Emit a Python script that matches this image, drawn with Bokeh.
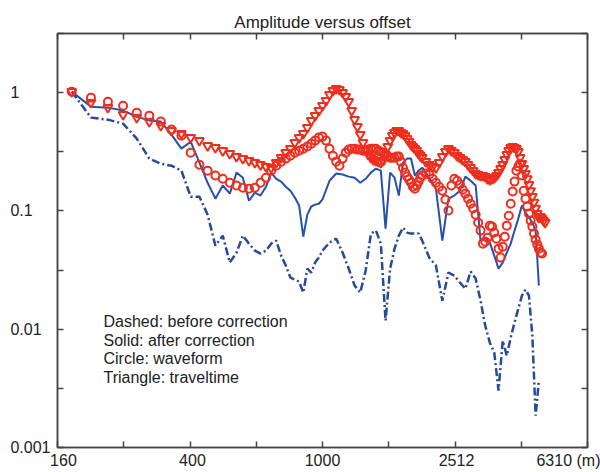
from bokeh.plotting import figure
from bokeh.models import Range1d, FixedTicker, LogAxis, Label, CustomJSTickFormatter
from bokeh.embed import file_html
from bokeh.resources import INLINE

# Source-receiver offsets (m) at which the two blue curves are sampled
offsets = [175, 200, 225, 250, 275, 300, 325, 350, 375, 400, 425, 450, 475, 500,
           525, 550, 575, 600, 625, 650, 675, 700, 725, 750, 775, 800, 825, 850,
           875, 900, 925, 950, 975, 1000, 1050, 1100, 1150, 1200, 1250, 1300,
           1350, 1400, 1450, 1500, 1550, 1600, 1650, 1700, 1750, 1800, 1850,
           1900, 1950, 2000, 2100, 2200, 2300, 2400, 2500, 2600, 2700, 2800,
           2900, 3000, 3100, 3200, 3300, 3400, 3500, 3600, 3700, 3800, 3900,
           4000, 4100, 4200, 4300, 4400, 4500]

# Offsets (m) of the marker series
offsets_markers = [175, 200, 225, 250, 275, 300, 325, 350, 375, 400, 425, 450, 475, 500,
                   525, 550, 575, 600, 625, 650, 675, 700, 725, 750, 775, 800, 825, 850,
                   875, 900, 925, 950, 975,
                   1000, 1025, 1050, 1075, 1100, 1125, 1150, 1175, 1200, 1225,
                   1250, 1275, 1300, 1325, 1350, 1375, 1400, 1425, 1450, 1475,
                   1500, 1525, 1550, 1575, 1600, 1625, 1650, 1675, 1700, 1725,
                   1750, 1775, 1800, 1825, 1850, 1875, 1900, 1925, 1950, 1975, 2000,
                   2050, 2100, 2150, 2200, 2250, 2300, 2350, 2400, 2450, 2500,
                   2550, 2600, 2650, 2700, 2750, 2800, 2850, 2900, 2950, 3000,
                   3050, 3100, 3150, 3200, 3250, 3300, 3350, 3400, 3450, 3500,
                   3550, 3600, 3650, 3700, 3750, 3800, 3850, 3900, 3950, 4000,
                   4050, 4100, 4150, 4200, 4250, 4300, 4350, 4400, 4450, 4500,
                   4550, 4600, 4650, 4700]

# Amplitude before correction (dash-dot)
before_corr = [1.02, 0.615, 0.591, 0.547, 0.408, 0.277, 0.251, 0.241, 0.219, 0.132,
               0.132, 0.0930, 0.0509, 0.0618, 0.0366, 0.0444, 0.0618, 0.0529, 0.0462,
               0.0436, 0.0462, 0.0529, 0.0561, 0.0419, 0.0345, 0.0273, 0.0263, 0.0253,
               0.0204, 0.0325, 0.0301, 0.0366, 0.0403, 0.0462, 0.0540, 0.0583, 0.0444,
               0.0325, 0.0234, 0.0204, 0.0313, 0.0643, 0.0682, 0.0529, 0.0118, 0.0325,
               0.0480, 0.0618, 0.0722, 0.0656, 0.0643, 0.0643, 0.0643, 0.0561, 0.0403,
               0.0345, 0.0174, 0.0301, 0.0284, 0.0248, 0.0220, 0.0307, 0.0268, 0.0174,
               0.0107, 0.00770, 0.00634, 0.00303, 0.00801, 0.00598, 0.00849, 0.0114,
               0.0149, 0.0192, 0.0216, 0.0192, 0.00883, 0.00186, 0.00368]

# Amplitude after correction (solid)
after_corr = [1.02, 0.761, 0.747, 0.705, 0.627, 0.580, 0.569, 0.442, 0.336, 0.385,
              0.256, 0.173, 0.127, 0.164, 0.140, 0.211, 0.191, 0.122, 0.143, 0.135,
              0.160, 0.211, 0.187, 0.177, 0.160, 0.148, 0.130, 0.111, 0.0606, 0.0930,
              0.109, 0.113, 0.115, 0.125, 0.180, 0.207, 0.203, 0.195, 0.191, 0.173,
              0.187, 0.211, 0.228, 0.219, 0.0709, 0.211, 0.191, 0.135, 0.256, 0.277,
              0.277, 0.199, 0.219, 0.232, 0.191, 0.154, 0.0561, 0.127, 0.135, 0.148,
              0.195, 0.180, 0.164, 0.0561, 0.0594, 0.0540, 0.0419, 0.0325, 0.0366,
              0.0444, 0.0529, 0.0682, 0.0861, 0.111, 0.0967, 0.0877, 0.0796, 0.0682,
              0.0234]

# Waveform-based amplitude (circles)
waveform = [1.02, 0.907, 0.839, 0.776, 0.677, 0.639, 0.569, 0.487, 0.433, 0.311,
            0.246, 0.219, 0.199, 0.187, 0.173, 0.164, 0.157, 0.154, 0.157, 0.173,
            0.191, 0.219, 0.241, 0.261, 0.277, 0.293, 0.311, 0.323, 0.336, 0.350,
            0.370, 0.393, 0.417,
            0.425, 0.393, 0.336, 0.293, 0.261, 0.241, 0.277, 0.311, 0.330, 0.336,
            0.336, 0.330, 0.330, 0.323, 0.323, 0.330, 0.336, 0.336, 0.336, 0.323,
            0.317, 0.311, 0.299, 0.288, 0.282, 0.282, 0.282, 0.288, 0.288, 0.261,
            0.232, 0.211, 0.195, 0.184, 0.173, 0.160, 0.154, 0.164, 0.177, 0.191,
            0.199,
            0.207, 0.203, 0.187, 0.173, 0.160, 0.148, 0.125, 0.101, 0.164, 0.187,
            0.180, 0.167, 0.151, 0.140, 0.127, 0.115, 0.105, 0.0930, 0.0796, 0.0682,
            0.0529, 0.0550, 0.0594, 0.0751, 0.0737, 0.0656, 0.0583, 0.0480, 0.0403, 0.0499,
            0.0606, 0.0751, 0.0912, 0.115, 0.146, 0.177, 0.219, 0.237, 0.251, 0.199,
            0.148, 0.127, 0.109, 0.0949, 0.0828, 0.0737, 0.0643, 0.0572, 0.0519, 0.0480,
            0.0444, 0.0436]

# Traveltime-based amplitude (triangles)
traveltime = [1.02, 0.823, 0.747, 0.652, 0.615, 0.569, 0.526, 0.477, 0.450, 0.417,
              0.393, 0.356, 0.343, 0.323, 0.305, 0.288, 0.277, 0.266, 0.256, 0.246,
              0.237, 0.232, 0.256, 0.282, 0.311, 0.336, 0.378, 0.417, 0.450, 0.506,
              0.580, 0.639, 0.705,
              0.776, 0.856, 0.962, 1.04, 1.08, 1.06, 1.00, 0.925, 0.839, 0.705,
              0.591, 0.516, 0.442, 0.378, 0.330, 0.299, 0.282, 0.271, 0.266, 0.261,
              0.256, 0.266, 0.299, 0.350, 0.393, 0.433, 0.459, 0.477, 0.477, 0.459,
              0.450, 0.433, 0.408, 0.385, 0.364, 0.350, 0.336, 0.323, 0.305, 0.293,
              0.282,
              0.261, 0.246, 0.237, 0.232, 0.256, 0.288, 0.317, 0.336, 0.323, 0.311,
              0.293, 0.282, 0.271, 0.261, 0.246, 0.232, 0.219, 0.207, 0.203, 0.199,
              0.199, 0.195, 0.187, 0.184, 0.187, 0.191, 0.199, 0.211, 0.228, 0.246,
              0.271, 0.299, 0.323, 0.343, 0.350, 0.343, 0.336, 0.317, 0.282, 0.251,
              0.228, 0.207, 0.187, 0.167, 0.148, 0.132, 0.118, 0.105, 0.0949, 0.0877,
              0.0895, 0.0861, 0.0829, 0.0796]

# Axis ticks (every 0.2 decade on x, every half decade on y)
x_ticks = [158.49, 251.19, 398.11, 630.96, 1000.0, 1584.9, 2511.9, 3981.1, 6309.6]
y_ticks = [0.001, 0.0031623, 0.01, 0.031623, 0.1, 0.31623, 1.0, 3.1623]

# Tick label texts and where they sit (the last x label is pulled inside the window)
x_label_pos = [165.2, 405.0, 1000.0, 2538.0, 5529.0]
x_label_text = ["160", "400", "1000", "2512", "6310 (m)"]
y_label_pos = [1.0, 0.1, 0.01, 0.0010001]
# padded with no-break spaces so the numbers line up on their left edge
y_label_text = ["1" + "\u00a0" * 7, "0.1" + "\u00a0" * 4, "0.01" + "\u00a0" * 2, "0.001"]

notes = ["Dashed: before correction", "Solid: after correction",
         "Circle: waveform", "Triangle: traveltime"]

RED = "#ee2f20"
BLUE = "#2551ad"
DARK_BLUE = "#27499a"
FRAME = "#444444"
TEXT = "#222222"
FONT = "Liberation Sans"

p = figure(width=600, height=472, x_axis_type="log", y_axis_type="log",
           x_range=Range1d(x_ticks[0], x_ticks[-1]),
           y_range=Range1d(y_ticks[0], y_ticks[-1]),
           output_backend="svg", toolbar_location=None,
           min_border_left=57, min_border_right=13,
           min_border_top=33, min_border_bottom=25)
p.background_fill_color = "white"
p.border_fill_color = "white"
p.outline_line_color = FRAME
p.outline_line_width = 1.5
p.xgrid.visible = False
p.ygrid.visible = False

p.title.text = "Amplitude versus offset"
p.title.align = "center"
p.title.text_font = FONT
p.title.text_font_size = "17px"
p.title.text_font_style = "normal"
p.title.text_color = TEXT
p.title.standoff = 4

# tick marks on all four sides, pointing inward
top_axis = LogAxis()
p.add_layout(top_axis, "above")
p.add_layout(LogAxis(), "right")
for ax in p.axis:
    ax.major_label_text_font_size = "0px"
    ax.major_label_text_color = None
    ax.major_label_standoff = 0
    ax.major_tick_in = 6
    ax.major_tick_out = 0
    ax.minor_tick_line_color = None
    ax.major_tick_line_color = FRAME
    ax.major_tick_line_width = 1.5
    ax.axis_line_color = FRAME
    ax.axis_line_width = 1.5
# the top axis keeps invisible labels so that it reserves room under the title
top_axis.major_label_text_font_size = "6px"
top_axis.major_label_standoff = 2
for ax in p.xaxis:
    ax.ticker = FixedTicker(ticks=x_ticks)
for ax in p.yaxis:
    ax.ticker = FixedTicker(ticks=y_ticks)

# label-only axes outside the tick axes
nearest = ("let b = 0; for (let i = 0; i < pos.length; i++) {"
           " if (Math.abs(Math.log(pos[i] / tick)) < Math.abs(Math.log(pos[b] / tick))) b = i; }"
           " return labels[b];")
x_lab_axis = LogAxis(ticker=FixedTicker(ticks=x_label_pos),
                     formatter=CustomJSTickFormatter(args=dict(pos=x_label_pos, labels=x_label_text),
                                                     code=nearest))
y_lab_axis = LogAxis(ticker=FixedTicker(ticks=y_label_pos),
                     formatter=CustomJSTickFormatter(args=dict(pos=y_label_pos, labels=y_label_text),
                                                     code=nearest))
for ax, standoff in ((x_lab_axis, 4), (y_lab_axis, 7)):
    ax.axis_line_color = None
    ax.major_tick_line_color = None
    ax.minor_tick_line_color = None
    ax.major_tick_in = 0
    ax.major_tick_out = 0
    ax.major_label_standoff = standoff
    ax.major_label_text_font = FONT
    ax.major_label_text_font_size = "16px"
    ax.major_label_text_color = TEXT
p.add_layout(x_lab_axis, "below")
p.add_layout(y_lab_axis, "left")

# curves
p.line(offsets[:len(before_corr)], before_corr, line_color=DARK_BLUE, line_width=2.5,
       line_dash="8 3 2 3")
p.line(offsets[:len(after_corr)], after_corr, line_color=BLUE, line_width=2)
p.scatter(offsets_markers[:len(traveltime)], traveltime, marker="inverted_triangle",
          size=9, fill_color=None, line_color=RED, line_width=2)
p.scatter(offsets_markers[:len(waveform)], waveform, marker="circle",
          size=8, fill_color=None, line_color=RED, line_width=2)

# annotation block
for i, txt in enumerate(notes):
    p.add_layout(Label(x=x_ticks[0], y=y_ticks[0], x_offset=46, y_offset=126 - 18.7 * i,
                       text=txt, text_align="left", text_baseline="middle",
                       text_font=FONT, text_font_size="16px", text_color=TEXT))

open("out.html", "w").write(file_html(p, INLINE))
